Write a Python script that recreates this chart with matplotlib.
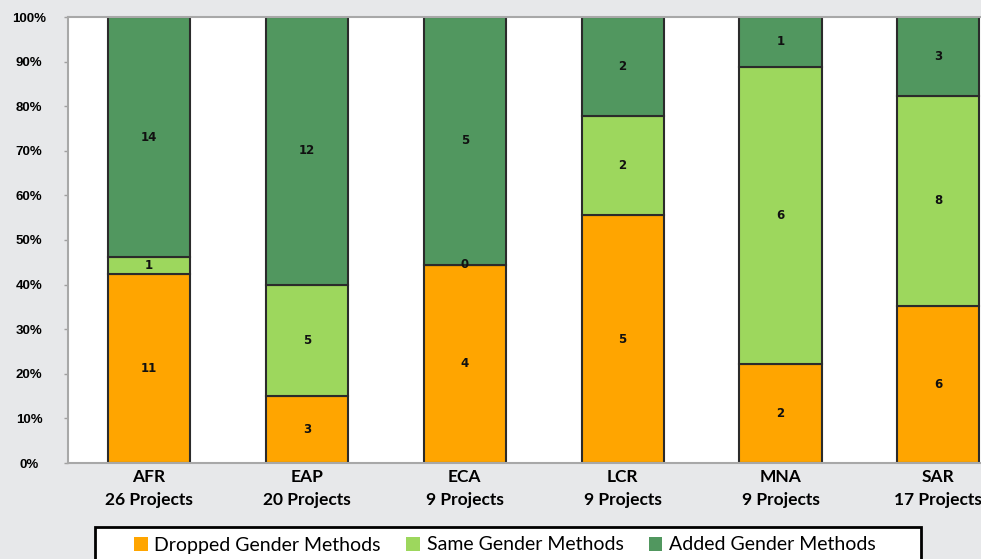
import matplotlib.pyplot as plt
from matplotlib.patches import Rectangle, Patch

# regions and project counts
regions = ['AFR', 'EAP', 'ECA', 'LCR', 'MNA', 'SAR']
projects = [26, 20, 9, 9, 9, 17]

# number of projects per category
dropped = [11, 3, 4, 5, 2, 6]
same = [1, 5, 0, 2, 6, 8]
added = [14, 12, 5, 2, 1, 3]

series_names = ['Dropped Gender Methods', 'Same Gender Methods', 'Added Gender Methods']
colors = ['#FFA500', '#9DD75D', '#51975F']

fig = plt.figure(figsize=(9.81, 5.59), dpi=100)
fig.patch.set_facecolor('#E7E8EA')
ax = fig.add_axes([68 / 981, 1 - 463 / 559, 1 - 68 / 981, (463 - 17) / 559])
ax.set_facecolor('white')

x = list(range(len(regions)))
totals = [d + s + a for d, s, a in zip(dropped, same, added)]
bottoms = [0.0] * len(regions)
for counts, name, col in zip([dropped, same, added], series_names, colors):
    pct = [c / t * 100 for c, t in zip(counts, totals)]
    ax.bar(x, pct, width=0.52, bottom=bottoms, color=col, edgecolor='#2b2b2b',
           linewidth=1.5)
    for xi, p, b, c in zip(x, pct, bottoms, counts):
        ax.text(xi, b + p / 2, str(c), ha='center', va='center', fontsize=8.5,
                fontweight='bold', family='DejaVu Sans', color='#111111')
    bottoms = [b + p for b, p in zip(bottoms, pct)]

ax.set_xlim(-0.513, 5.27)
ax.set_ylim(0, 100)
ax.set_yticks(range(0, 101, 10))
ax.set_yticklabels([f'{v}%' for v in range(0, 101, 10)], fontsize=9.5,
                   fontweight='bold', family='Liberation Sans', ha='center')
ax.tick_params(axis='y', length=3, width=1, color='#a0a0a0', pad=25)
ax.set_xticks(x)
ax.set_xticklabels([f'{r}\n{p} Projects' for r, p in zip(regions, projects)],
                   fontsize=12.5, fontweight='bold', family='Lato', linespacing=1.5)
ax.tick_params(axis='x', length=0, pad=4.5)

for side in ['left', 'bottom', 'top']:
    ax.spines[side].set_color('#a8a8a8')
    ax.spines[side].set_linewidth(1.5)
ax.spines['right'].set_visible(False)

# legend box cut by the bottom edge
fig.patches.append(Rectangle((95 / 981, -0.05), 826 / 981, (559 - 527) / 559 + 0.05,
                             transform=fig.transFigure, facecolor='white',
                             edgecolor='black', linewidth=2, zorder=0))
handles = [Patch(facecolor=c, edgecolor='none') for c in colors]
fig.legend(handles, series_names, loc='center', ncol=3, bbox_to_anchor=(505 / 981, 1 - 545 / 559),
           frameon=False, prop={'family': 'Lato', 'size': 14},
           handlelength=0.7, handleheight=0.7, handletextpad=0.35, columnspacing=1.3)

fig.savefig('out.png', dpi=100, facecolor=fig.get_facecolor())
